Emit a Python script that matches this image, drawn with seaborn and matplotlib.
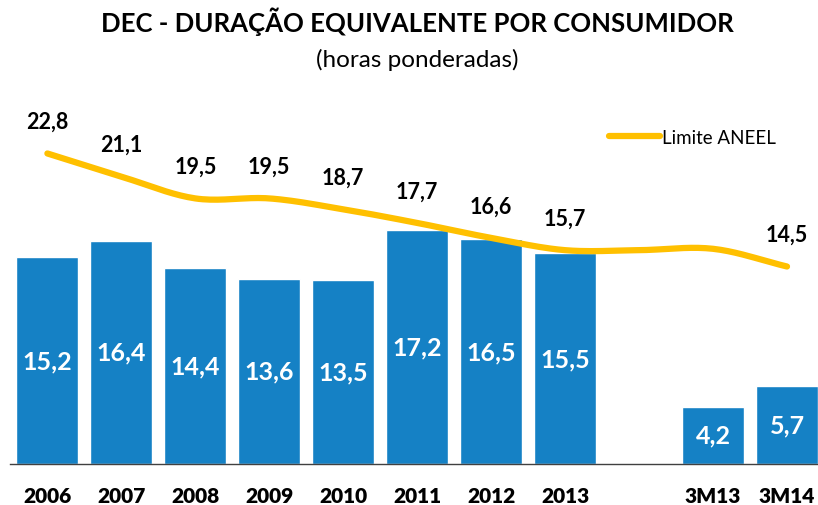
import numpy as np
import pandas as pd
import seaborn as sns
import matplotlib.pyplot as plt
from matplotlib.lines import Line2D

# Data
categories = ['2006', '2007', '2008', '2009', '2010', '2011', '2012', '2013', ' ', '3M13', '3M14']
bar_categories = ['2006', '2007', '2008', '2009', '2010', '2011', '2012', '2013', '3M13', '3M14']
bar_values = [15.2, 16.4, 14.4, 13.6, 13.5, 17.2, 16.5, 15.5, 4.2, 5.7]
limit_values = [22.8, 21.1, 19.5, 19.5, 18.7, 17.7, 16.6, 15.7, 15.7, 15.8, 14.5]
limit_labeled = [True, True, True, True, True, True, True, True, False, False, True]

BAR_COLOR = '#1581C5'
LINE_COLOR = '#FFC000'

sns.set_style('white')
plt.rcParams['font.family'] = ['Lato', 'DejaVu Sans']
plt.rcParams['text.color'] = 'black'
plt.rcParams['xtick.color'] = 'black'


def fmt(v):
    return f'{v:.1f}'.replace('.', ',')


def smooth(x, y, steps=20):
    # Catmull-Rom spline through the points (Excel-like smoothed line)
    x = np.asarray(x, float)
    y = np.asarray(y, float)
    px = np.concatenate([[2 * x[0] - x[1]], x, [2 * x[-1] - x[-2]]])
    py = np.concatenate([[2 * y[0] - y[1]], y, [2 * y[-1] - y[-2]]])
    xs, ys = [], []
    t = np.linspace(0, 1, steps, endpoint=False)
    for i in range(1, len(px) - 2):
        for arr, out in ((px, xs), (py, ys)):
            p0, p1, p2, p3 = arr[i - 1], arr[i], arr[i + 1], arr[i + 2]
            out.extend(0.5 * ((2 * p1) + (-p0 + p2) * t
                              + (2 * p0 - 5 * p1 + 4 * p2 - p3) * t ** 2
                              + (-p0 + 3 * p1 - 3 * p2 + p3) * t ** 3))
    xs.append(x[-1])
    ys.append(y[-1])
    return np.array(xs), np.array(ys)


W, H = 818, 506
fig = plt.figure(figsize=(W / 100, H / 100), dpi=100)

# axes placed in pixel terms: baseline at y=465, slots of ~74px
px_per_unit = 13.62
ax_left, ax_right, ax_bottom, ax_top = 10.4, 824, 465, 90
ax = fig.add_axes([ax_left / W, 1 - ax_bottom / H,
                   (ax_right - ax_left) / W, (ax_bottom - ax_top) / H])

df = pd.DataFrame({'cat': bar_categories, 'val': bar_values})
sns.barplot(data=df, x='cat', y='val', order=categories, color=BAR_COLOR,
            saturation=1, width=0.84, ax=ax)

ax.set_xlim(-0.5, len(categories) - 0.5)
ax.set_ylim(0, (ax_bottom - ax_top) / px_per_unit)

# bar value labels (white, centered inside bars)
for cat, v in zip(bar_categories, bar_values):
    xi = categories.index(cat)
    ax.text(xi, v / 2, fmt(v), ha='center', va='center', color='white',
            fontsize=18, fontweight='bold')

# limit line
sx, sy = smooth(range(len(categories)), limit_values)
sns.lineplot(x=sx, y=sy, sort=False, color=LINE_COLOR, linewidth=4.5,
             ax=ax, solid_capstyle='round')
for xi, (v, show) in enumerate(zip(limit_values, limit_labeled)):
    if show:
        ax.annotate(fmt(v), (xi, v), xytext=(0, 23), textcoords='offset points',
                    ha='center', va='center', fontsize=15.5, fontweight='bold',
                    color='black')

# axis styling
for s in ['top', 'right', 'left']:
    ax.spines[s].set_visible(False)
ax.spines['bottom'].set_color('#404040')
ax.spines['bottom'].set_linewidth(1)
ax.set_yticks([])
ax.set_xlabel('')
ax.set_ylabel('')
ax.set_xticks(range(len(categories)))
ax.set_xticklabels(categories, fontsize=15, fontweight='heavy')
ax.tick_params(axis='x', which='major', length=0, pad=16)
ax.set_xticks(np.arange(-0.5, len(categories), 1), minor=True)
ax.tick_params(axis='x', which='minor', length=5, color='#808080', width=1)

# legend
handle = Line2D([], [], color=LINE_COLOR, linewidth=4.5, solid_capstyle='round')
fig.legend([handle], ['Limite ANEEL'], loc='center left',
           bbox_to_anchor=(609 / W, 1 - 138 / H), frameon=False, fontsize=13.5,
           handlelength=2.7, handletextpad=0.15, borderpad=0, borderaxespad=0)

# titles
fig.text(417 / W, 1 - 22 / H, 'DEC - DURAÇÃO EQUIVALENTE POR CONSUMIDOR',
         ha='center', va='center', fontsize=18.5, fontweight='bold')
fig.text(417 / W, 1 - 60 / H, '(horas ponderadas)', ha='center', va='center',
         fontsize=17.5)

fig.savefig('out.png', dpi=100)
